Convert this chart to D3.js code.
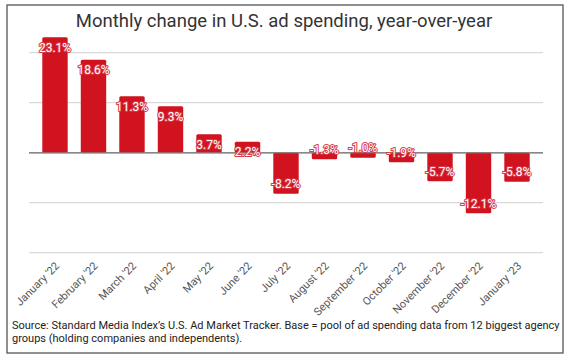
<!DOCTYPE html>
<html><head><meta charset="utf-8">
<script src="https://cdn.jsdelivr.net/npm/d3@7"></script>
<style>
html,body{margin:0;padding:0;background:#fff;}
svg{display:block;font-family:Roboto,"Noto Sans",sans-serif;}
</style></head>
<body>
<svg id="c" width="568" height="358"></svg>
<script>
const months = ["January '22","February '22","March '22","April '22","May '22","June '22","July '22","August '22","September '22","October '22","November '22","December '22","January '23"];
const changes = [23.1, 18.6, 11.3, 9.3, 3.7, 2.2, -8.2, -1.3, -1.0, -1.9, -5.7, -12.1, -5.8];
const gridTicks = [-20, -10, 0, 10, 20];
const titleText = "Monthly change in U.S. ad spending, year-over-year";
const sourceLines = ["Source: Standard Media Index\u2019s U.S. Ad Market Tracker. Base = pool of ad spending data from 12 biggest agency",
                     "groups (holding companies and independents)."];

const svg = d3.select("#c");
const left = 29, right = 543;
const x = d3.scaleBand().domain(months).range([left, right]).paddingInner(0.34).paddingOuter(0.345);
const y = d3.scaleLinear().domain([-20, 20]).range([252.7, 52.7]);

// frame
svg.append("rect").attr("x", 7).attr("y", 5).attr("width", 556).attr("height", 348)
  .attr("fill", "none").attr("stroke", "#555").attr("stroke-width", 1.3);

// title
svg.append("text").attr("x", 284).attr("y", 27).attr("text-anchor", "middle")
  .attr("font-size", 18.5).attr("fill", "#333").text(titleText);

// gridlines
svg.append("g").selectAll("line").data(gridTicks).join("line")
  .attr("x1", left).attr("x2", right)
  .attr("y1", d => y(d)).attr("y2", d => y(d))
  .attr("stroke", d => d === 0 ? "#888" : "#dadada")
  .attr("stroke-width", d => d === 0 ? 1.5 : 1.3);

// bars
svg.append("g").selectAll("rect").data(changes).join("rect")
  .attr("x", (d, i) => x(months[i]))
  .attr("width", x.bandwidth())
  .attr("y", d => y(Math.max(0, d)))
  .attr("height", d => Math.abs(y(d) - y(0)))
  .attr("rx", 1.5)
  .attr("fill", "#d0131f");

// zero line on top
svg.append("line").attr("x1", left).attr("x2", right).attr("y1", y(0)).attr("y2", y(0))
  .attr("stroke", "#888").attr("stroke-width", 1.5).attr("opacity", 0.6);

// value labels
svg.append("g").selectAll("text").data(changes).join("text")
  .attr("x", (d, i) => x(months[i]) + x.bandwidth() / 2)
  .attr("y", d => d >= 0 ? y(d) + 10 : y(d) - 10)
  .attr("dy", "0.36em")
  .attr("text-anchor", "middle")
  .attr("font-size", 12)
  .attr("fill", "#fff")
  .attr("stroke", "#d83a48")
  .attr("stroke-width", 2)
  .attr("stroke-linejoin", "round")
  .attr("paint-order", "stroke")
  .text(d => d.toFixed(1) + "%");

// x axis
const ax = svg.append("g").attr("transform", `translate(0,${y(-20)})`)
  .call(d3.axisBottom(x).tickSize(0));
ax.select(".domain").remove();
ax.selectAll("text")
  .attr("x", 0).attr("y", 0).attr("dy", 0)
  .attr("transform", "translate(5,14) rotate(-45)")
  .attr("text-anchor", "end")
  .attr("font-size", 11)
  .attr("font-family", "Roboto, sans-serif")
  .attr("fill", "#555");

// source
svg.append("g").selectAll("text").data(sourceLines).join("text")
  .attr("x", 12).attr("y", (d, i) => 329 + i * 13)
  .attr("font-size", 11).attr("fill", "#222").text(d => d);
</script>
</body></html>
